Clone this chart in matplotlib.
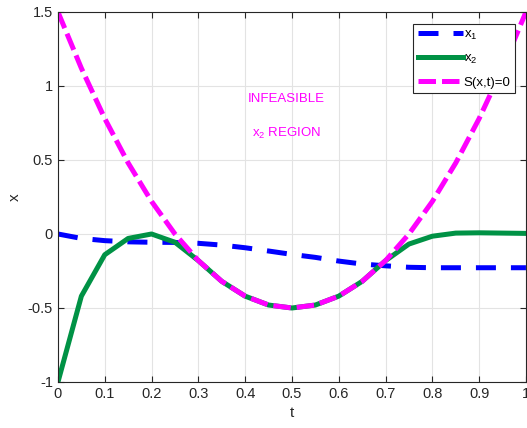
import numpy as np
import matplotlib.pyplot as plt

plt.rcParams['font.family'] = ['Liberation Sans', 'DejaVu Sans']
plt.rcParams['mathtext.fontset'] = 'custom'
plt.rcParams['mathtext.rm'] = 'Liberation Sans'
plt.rcParams['mathtext.default'] = 'rm'

# valeurs
t = [0, 0.05, 0.1, 0.15, 0.2, 0.25, 0.3, 0.35, 0.4, 0.45, 0.5,
     0.55, 0.6, 0.65, 0.7, 0.75, 0.8, 0.85, 0.9, 0.95, 1.0]
x1 = [0, -0.03, -0.045, -0.053, -0.056, -0.057, -0.063, -0.075, -0.093, -0.115, -0.138,
      -0.158, -0.183, -0.203, -0.215, -0.225, -0.228, -0.228, -0.228, -0.228, -0.228]
x2 = [-1, -0.42, -0.14, -0.03, 0.0, -0.056, -0.18, -0.32, -0.42, -0.48, -0.5,
      -0.48, -0.42, -0.32, -0.18, -0.068, -0.015, 0.006, 0.008, 0.006, 0.004]
s = [1.5, 1.12, 0.78, 0.48, 0.22, 0.0, -0.18, -0.32, -0.42, -0.48, -0.5,
     -0.48, -0.42, -0.32, -0.18, 0.0, 0.22, 0.48, 0.78, 1.12, 1.5]

fig = plt.figure(figsize=(5.27, 4.28), dpi=100)
ax = fig.add_axes([0.110, 0.1075, 0.888, 0.8645])

ax.plot(t, x1, color='#0000ff', lw=3.6, ls=(0, (4, 3)), label='x$_{1}$')
ax.plot(t, x2, color='#009245', lw=3.6, label='x$_{2}$')
ax.plot(t, s, color='#ff00ff', lw=3.6, ls=(0, (3.5, 1.2)), label='S(x,t)=0')

ax.text(0.488, 0.915, 'INFEASIBLE', color='#ff00ff', fontsize=9.5, ha='center', va='center')
ax.text(0.488, 0.68, 'x$_{2}$ REGION', color='#ff00ff', fontsize=9.5, ha='center', va='center')

ax.set_xlim(0, 1)
ax.set_ylim(-1, 1.5)
ax.set_xticks(np.arange(0, 1.01, 0.1))
ax.set_xticklabels(['0', '0.1', '0.2', '0.3', '0.4', '0.5', '0.6', '0.7', '0.8', '0.9', '1'])
ax.set_yticks([-1, -0.5, 0, 0.5, 1, 1.5])
ax.set_yticklabels(['-1', '-0.5', '0', '0.5', '1', '1.5'])
ax.tick_params(direction='in', labelsize=10.5, colors='#262626', length=4, top=True, right=True)
ax.grid(True, color='#e3e3e3', lw=0.8)
for sp in ax.spines.values():
    sp.set_color('#262626')
    sp.set_linewidth(0.8)
ax.set_xlabel('t', fontsize=11, color='#262626')
ax.set_ylabel('x', fontsize=11, color='#262626')

leg = ax.legend(loc='upper right', bbox_to_anchor=(0.983, 0.974), fontsize=9.5,
                handlelength=3.4, handletextpad=0.1, borderpad=0.35,
                labelspacing=0.8, borderaxespad=0.2, fancybox=False, framealpha=1)
leg.get_frame().set_edgecolor('#262626')
leg.get_frame().set_linewidth(0.8)

fig.savefig('out.png', dpi=100)
